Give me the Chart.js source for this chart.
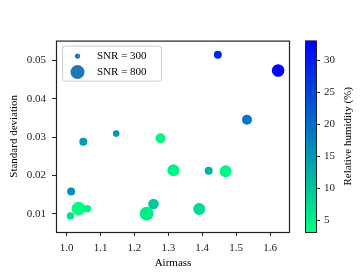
<!DOCTYPE html>
<html>
<head>
<meta charset="utf-8">
<script src="https://cdn.jsdelivr.net/npm/chart.js@4.4.0/dist/chart.umd.min.js"></script>
<style>
  html, body { margin: 0; padding: 0; background: #fff; }
</style>
</head>
<body>
<canvas id="myChart" width="364" height="278"></canvas>
<script>
// one entry per observation
const airmass  = [1.049, 1.146, 1.277, 1.315, 1.013, 1.035, 1.061, 1.011, 1.236, 1.256, 1.446, 1.624, 1.532, 1.419, 1.469, 1.391];
const stdDev   = [0.0288, 0.0309, 0.0297, 0.0213, 0.0158, 0.0113, 0.0113, 0.0094, 0.0100, 0.0125, 0.0515, 0.0474, 0.0345, 0.0212, 0.0211, 0.0112];
const humidity = [15.0, 15.5, 4.0, 4.5, 16.0, 3.1, 4.5, 6.5, 5.5, 9.5, 28.5, 33.1, 19.0, 12.0, 4.0, 7.5];
const snr      = [457, 377, 571, 686, 457, 800, 420, 420, 800, 606, 457, 720, 571, 457, 686, 686];

const xTicks = [1.0, 1.1, 1.2, 1.3, 1.4, 1.5, 1.6];
const yTicks = [0.01, 0.02, 0.03, 0.04, 0.05];
const cbarTicks = [5, 10, 15, 20, 25, 30];
const legendSnr = [300, 800];

const cMin = Math.min(...humidity);
const cMax = Math.max(...humidity);
const ink = '#222';
const FONT = 'Liberation Serif';

// winter_r colormap
function winterR(h) {
  const t = (h - cMin) / (cMax - cMin);
  return 'rgb(0,' + Math.round(255 * (1 - t)) + ',' + Math.round(127.5 + 127.5 * t) + ')';
}
function radiusFor(s) {
  return s * 0.00875;
}

const points = airmass.map((x, i) => ({ x: x, y: stdDev[i] }));

const extras = {
  id: 'extras',
  afterDraw(chart) {
    const ctx = chart.ctx;
    const area = chart.chartArea;
    ctx.save();

    // frame
    ctx.strokeStyle = ink;
    ctx.lineWidth = 1.2;
    ctx.strokeRect(area.left + 0.5, area.top + 0.5, area.right - area.left - 1, area.bottom - area.top);
    ctx.lineWidth = 1;

    // legend
    const lx = area.left + 6, ly = area.top + 5;
    ctx.beginPath();
    ctx.roundRect(lx + 0.5, ly + 0.5, 99, 35, 3);
    ctx.fillStyle = 'rgba(255,255,255,0.8)';
    ctx.fill();
    ctx.strokeStyle = '#ccc';
    ctx.stroke();
    ctx.font = '11px "' + FONT + '"';
    ctx.textBaseline = 'middle';
    ctx.textAlign = 'left';
    legendSnr.forEach((s, i) => {
      const cy = ly + 10.5 + i * 16;
      ctx.beginPath();
      ctx.arc(lx + 15.5, cy, radiusFor(s), 0, Math.PI * 2);
      ctx.fillStyle = '#1f77b4';
      ctx.fill();
      ctx.fillStyle = '#000';
      ctx.fillText('SNR = ' + s, lx + 35, cy);
    });

    // colorbar
    const sc = chart.scales.cb;
    const bx = area.right + 15, bw = 11;
    const yTop = sc.getPixelForValue(cMax), yBot = sc.getPixelForValue(cMin);
    const grad = ctx.createLinearGradient(0, yTop, 0, yBot);
    grad.addColorStop(0, winterR(cMax));
    grad.addColorStop(1, winterR(cMin));
    ctx.fillStyle = grad;
    ctx.fillRect(bx, yTop, bw, yBot - yTop);
    ctx.strokeStyle = ink;
    ctx.strokeRect(bx + 0.5, yTop + 0.5, bw, yBot - yTop);
    sc.ticks.forEach(t => {
      const y = Math.round(sc.getPixelForValue(t.value)) + 0.5;
      ctx.beginPath();
      ctx.moveTo(bx + bw, y);
      ctx.lineTo(bx + bw + 4, y);
      ctx.stroke();
    });
    ctx.translate(348, (yTop + yBot) / 2);
    ctx.rotate(-Math.PI / 2);
    ctx.textAlign = 'center';
    ctx.fillStyle = '#000';
    ctx.fillText('Relative humidity (%)', 0, 0);
    ctx.restore();
  }
};

Chart.defaults.font.family = FONT;
Chart.defaults.font.size = 11;
Chart.defaults.color = ink;

const ctx = document.getElementById('myChart').getContext('2d');
const myChart = new Chart(ctx, {
  type: 'scatter',
  data: {
    datasets: [{
      data: points,
      backgroundColor: c => winterR(humidity[c.dataIndex]),
      pointRadius: c => radiusFor(snr[c.dataIndex]),
      pointBorderWidth: 0,
      pointHoverRadius: c => radiusFor(snr[c.dataIndex])
    }]
  },
  options: {
    responsive: false,
    animation: false,
    devicePixelRatio: 1,
    layout: { padding: { top: 14, left: 0, right: 0, bottom: 0 } },
    plugins: { legend: { display: false }, tooltip: { enabled: false } },
    scales: {
      x: {
        type: 'linear',
        min: 0.9684,
        max: 1.659,
        afterBuildTicks: s => { s.ticks = xTicks.map(v => ({ value: v })); },
        afterFit: s => { s.height = 46; },
        ticks: { callback: v => v.toFixed(1), padding: 6, color: ink, maxRotation: 0 },
        grid: { drawOnChartArea: false, tickLength: 4, tickColor: ink },
        border: { display: false },
        title: { display: true, text: 'Airmass', color: '#000', padding: { top: 0, bottom: 8.7 } }
      },
      y: {
        type: 'linear',
        min: 0.0052,
        max: 0.0552,
        afterBuildTicks: s => { s.ticks = yTicks.map(v => ({ value: v })); },
        afterFit: s => { s.width = 56; },
        ticks: { callback: v => v.toFixed(2), padding: 6, color: ink },
        grid: { drawOnChartArea: false, tickLength: 4, tickColor: ink },
        border: { display: false },
        title: { display: true, text: 'Standard deviation', color: '#000', padding: { top: 7.4, bottom: 0 } }
      },
      cb: {
        type: 'linear',
        position: 'right',
        min: cMin,
        max: cMax,
        afterBuildTicks: s => { s.ticks = cbarTicks.map(v => ({ value: v })); },
        afterFit: s => { s.width = 74; },
        ticks: { padding: 34, color: ink },
        grid: { display: false, drawTicks: false },
        border: { display: false }
      }
    }
  },
  plugins: [extras]
});
</script>
</body>
</html>
